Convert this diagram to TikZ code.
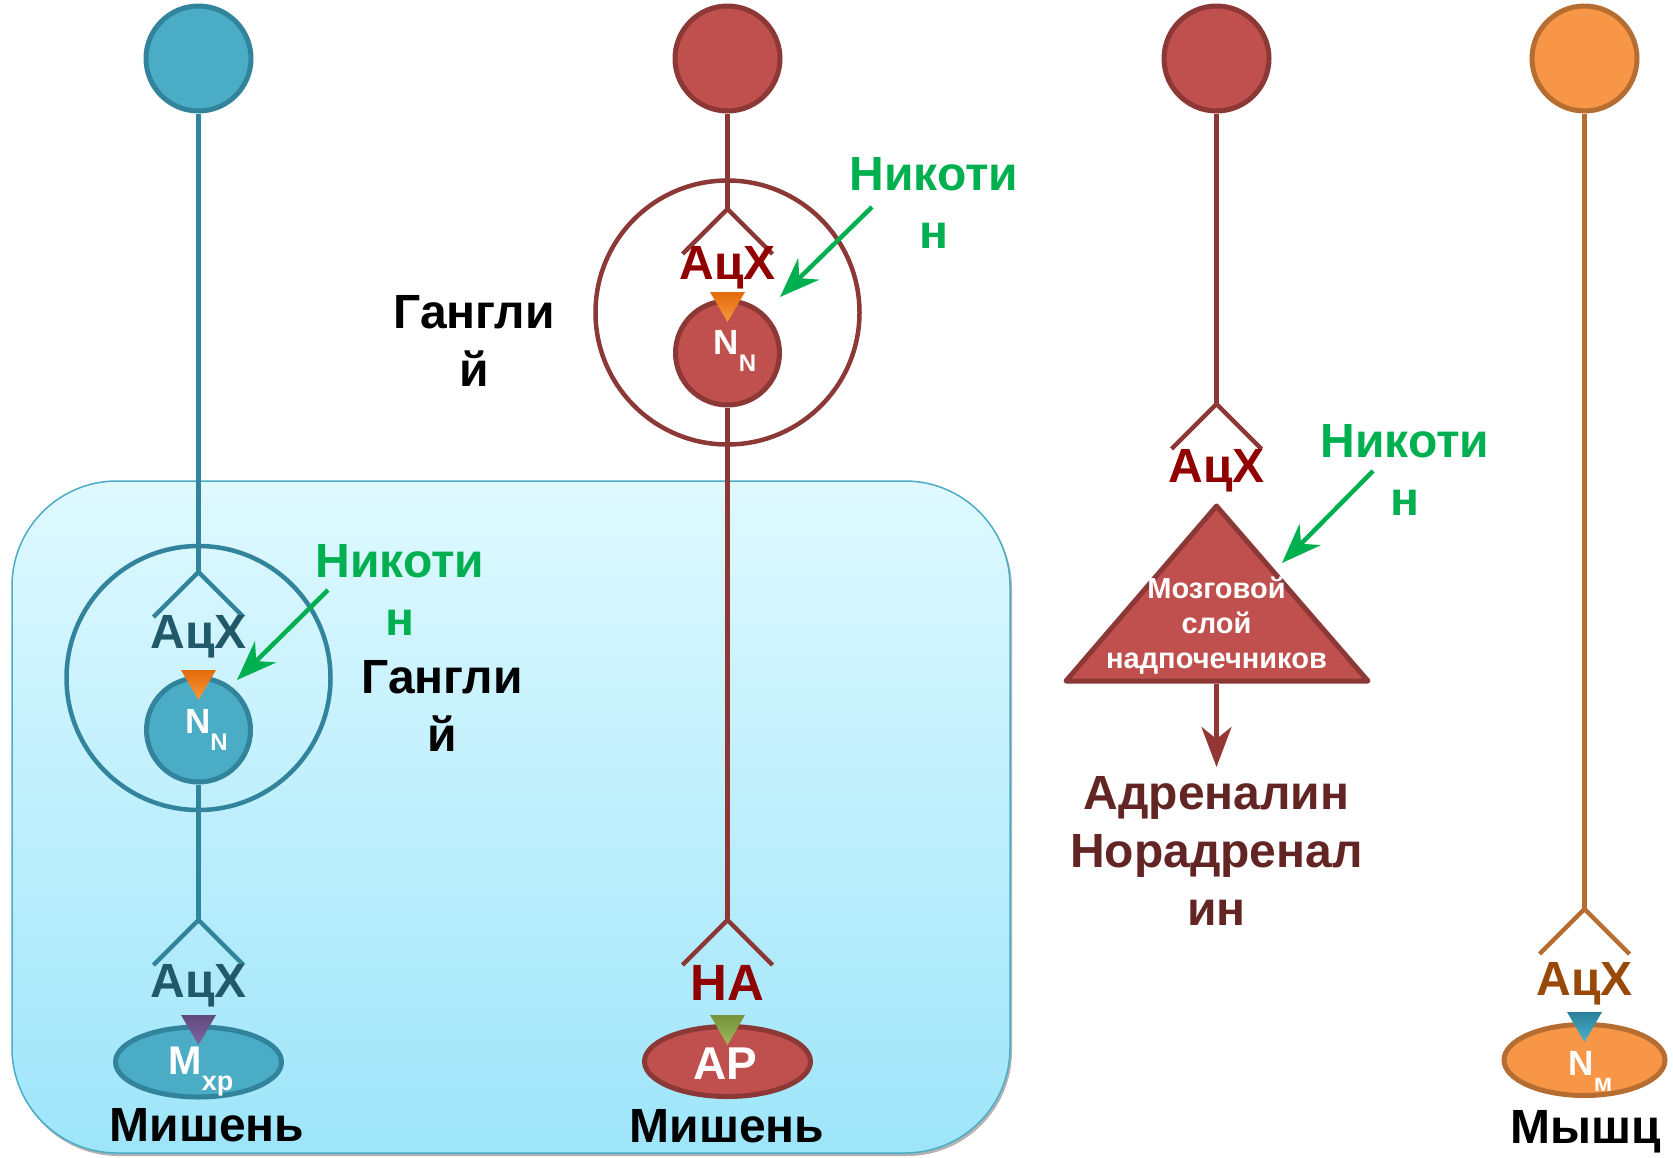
\documentclass[tikz,border=0pt]{standalone}
\usepackage{fontspec}
\setmainfont{Liberation Sans}
\usetikzlibrary{arrows.meta,positioning,shapes.geometric}
\definecolor{tealF}{HTML}{4BACC6}
\definecolor{tealL}{HTML}{31849B}
\definecolor{tealT}{HTML}{215968}
\definecolor{redF}{HTML}{C0504D}
\definecolor{redL}{HTML}{8C3836}
\definecolor{redT}{HTML}{900000}
\definecolor{orF}{HTML}{F79646}
\definecolor{orL}{HTML}{B66D31}
\definecolor{orT}{HTML}{984807}
\definecolor{nicG}{HTML}{00B050}
\definecolor{hormT}{HTML}{632523}
\definecolor{arrR}{HTML}{943634}
\definecolor{boxTop}{HTML}{DFF9FF}
\definecolor{boxBot}{HTML}{9EE5FA}
\definecolor{boxL}{HTML}{4BACC6}
\definecolor{triOa}{HTML}{E26B0A}
\definecolor{triOb}{HTML}{F8983F}
\definecolor{triPa}{HTML}{5F4A7B}
\definecolor{triPb}{HTML}{8064A2}
\definecolor{triGa}{HTML}{76923C}
\definecolor{triGb}{HTML}{9BBB59}
\definecolor{triBa}{HTML}{2B8099}
\definecolor{triBb}{HTML}{4BB4CE}
\tikzset{
	axon/.style={line width=4.5pt},
	soma/.style={circle,minimum size=105pt,line width=5pt,inner sep=0pt},
	ganglion/.style={circle,minimum size=264pt,line width=4.5pt,inner sep=0pt},
	nrec/.style={circle,minimum size=104pt,line width=5pt,inner sep=0pt},
	target/.style={ellipse,minimum width=166pt,minimum height=70pt,line width=5pt,inner sep=0pt},
	lbl/.style={font=\bfseries\fontsize{48}{58}\selectfont,inner sep=0pt,align=center,anchor=base},
	rlbl/.style={text=white,font=\bfseries\fontsize{35}{35}\selectfont,inner sep=0pt,anchor=base},
	nicarrow/.style={nicG,line width=4.5pt,-{Stealth[length=40pt,width=30pt,inset=13pt]}}
}
\begin{document}
\begin{tikzpicture}[x=1pt,y=-1pt,line join=round]
		%==vị trí các cột
		\def\xa{198.5}
		\def\xb{727.5}
		\def\xc{1216.5}
		\def\xd{1584.5}
		%==============
		\useasboundingbox (0,0) rectangle (1673,1157);
		\fill[black!30,rounded corners=105pt] (13.5,484) rectangle (1012,1156);
		\shade[top color=boxTop,bottom color=boxBot,draw=boxL,line width=1.5pt,rounded corners=105pt] (12,481) rectangle (1010,1153);
		%==thân nơron
		\foreach \n/\x/\f/\l in {sa/\xa/tealF/tealL,sb/\xb/redF/redL,sc/\xc/redF/redL,sd/\xd/orF/orL}
		\node[soma,fill=\f,draw=\l] (\n) at (\x,58.5) {};
		\node[ganglion,draw=tealL] (ga) at (\xa,678) {};
		\node[ganglion,draw=redL] (gb) at (\xb,312.5) {};
		\node[nrec,fill=tealF,draw=tealL] (na) at (\xa,730) {};
		\node[nrec,fill=redF,draw=redL] (nb) at (\xb,353) {};
		\node[target,fill=tealF,draw=tealL] (ma) at (\xa,1062) {};
		\node[target,fill=redF,draw=redL] (mb) at (\xb,1061.5) {};
		\node[target,fill=orF,draw=orL,minimum width=161pt,minimum height=71pt] (md) at (\xd,1060) {};
		%==sợi trục
		\coordinate (fa1) at (\xa,572);
		\coordinate (fa2) at (\xa,920);
		\coordinate (fb1) at (\xb,209);
		\coordinate (fb2) at (\xb,920);
		\coordinate (fc) at (\xc,404);
		\coordinate (fd) at (\xd,909);
		\draw[axon,tealL] (sa)--(fa1) (na)--(fa2);
		\draw[axon,redL] (sb)--(fb1) (nb)--(fb2) (sc)--(fc);
		\draw[axon,orL] (sd)--(fd);
		\foreach \p/\c in {fa1/tealL,fa2/tealL,fb1/redL,fb2/redL,fc/redL,fd/orL}
		{\draw[axon,\c] (\p) ++(-45,45) -- (\p) -- ++(45,45);}
		%==thụ thể
		\foreach \x/\y/\t/\b in {\xa/670/triOa/triOb,\xb/292/triOa/triOb,\xa/1015/triPa/triPb,\xb/1015/triGa/triGb,\xd/1012/triBa/triBb}
		{\shade[top color=\t,bottom color=\b] (\x-17.5,\y) -- (\x+17.5,\y) -- (\x,\y+30) -- cycle;}
		\node[rlbl] (tna) at (206.5,733) {N\raisebox{-17pt}{\fontsize{24}{24}\selectfont N}};
		\node[rlbl] (tnb) at (735,354) {N\raisebox{-17pt}{\fontsize{24}{24}\selectfont N}};
		\node[rlbl,font=\bfseries\fontsize{40}{40}\selectfont] (tma) at (201,1074) {M\raisebox{-16pt}{\fontsize{27}{27}\selectfont хр}};
		\node[rlbl,font=\bfseries\fontsize{46}{46}\selectfont] (tmb) at (725.5,1079) {AP};
		\node[rlbl] (tmd) at (1590.5,1075) {N\raisebox{-16pt}{\fontsize{25}{25}\selectfont м}};
		%==chữ
		\node[lbl,text=tealT] (aa1) at (\xa,648) {АцХ};
		\node[lbl,text=tealT] (aa2) at (\xa,997) {АцХ};
		\node[lbl,text=redT] (ab1) at (\xb,279) {АцХ};
		\node[lbl,text=redT,font=\bfseries\fontsize{51}{58}\selectfont] (hab) at (\xb,1000) {НА};
		\node[lbl,text=redT] (ac) at (\xc,482) {АцХ};
		\node[lbl,text=orT] (ad) at (\xd,995) {АцХ};
		\node[lbl] (ta) at (207,1141) {Мишень};
		\node[lbl] (tb) at (727,1142) {Мишень};
		\node[lbl] (td) at (1586,1143) {Мышц};
		\node[lbl] (gla) at (442,751) {Гангли\\й};
		\node[lbl] (glb) at (474,386) {Гангли\\й};
		%==nicotin
		\node[lbl,text=nicG] (nica) at (400,635) {Никоти\\н};
		\node[lbl,text=nicG] (nicb) at (934,248) {Никоти\\н};
		\node[lbl,text=nicG] (nicc) at (1405,515) {Никоти\\н};
		\draw[nicarrow] (328,590) coordinate(pa) -- (237,680) coordinate(qa);
		\draw[nicarrow] (872,207) coordinate(pb) -- (780,297) coordinate(qb);
		\draw[nicarrow] (1373,471) coordinate(pc) -- (1282,563) coordinate(qc);
		%==tuyến thượng thận
		\draw[fill=redF,draw=redL,line width=5pt] (\xc,506)coordinate(T)--(1066,681)coordinate(B1)--(1368,681)coordinate(B2)--cycle;
		\node[text=white,font=\bfseries\fontsize{29}{35}\selectfont,align=center,anchor=base,inner sep=0pt] (mz) at (\xc,668) {Мозговой\\слой\\надпочечников};
		\coordinate (Bm) at (\xc,684);
		\coordinate (Ht) at (\xc,767);
		\draw[arrR,line width=4.5pt,-{Stealth[length=40pt,width=30pt,inset=12pt]}] (Bm)--(Ht);
		\node[lbl,text=hormT] (hm) at (\xc,925) {Адреналин\\Норадренал\\ин};
\end{tikzpicture}
\end{document}
